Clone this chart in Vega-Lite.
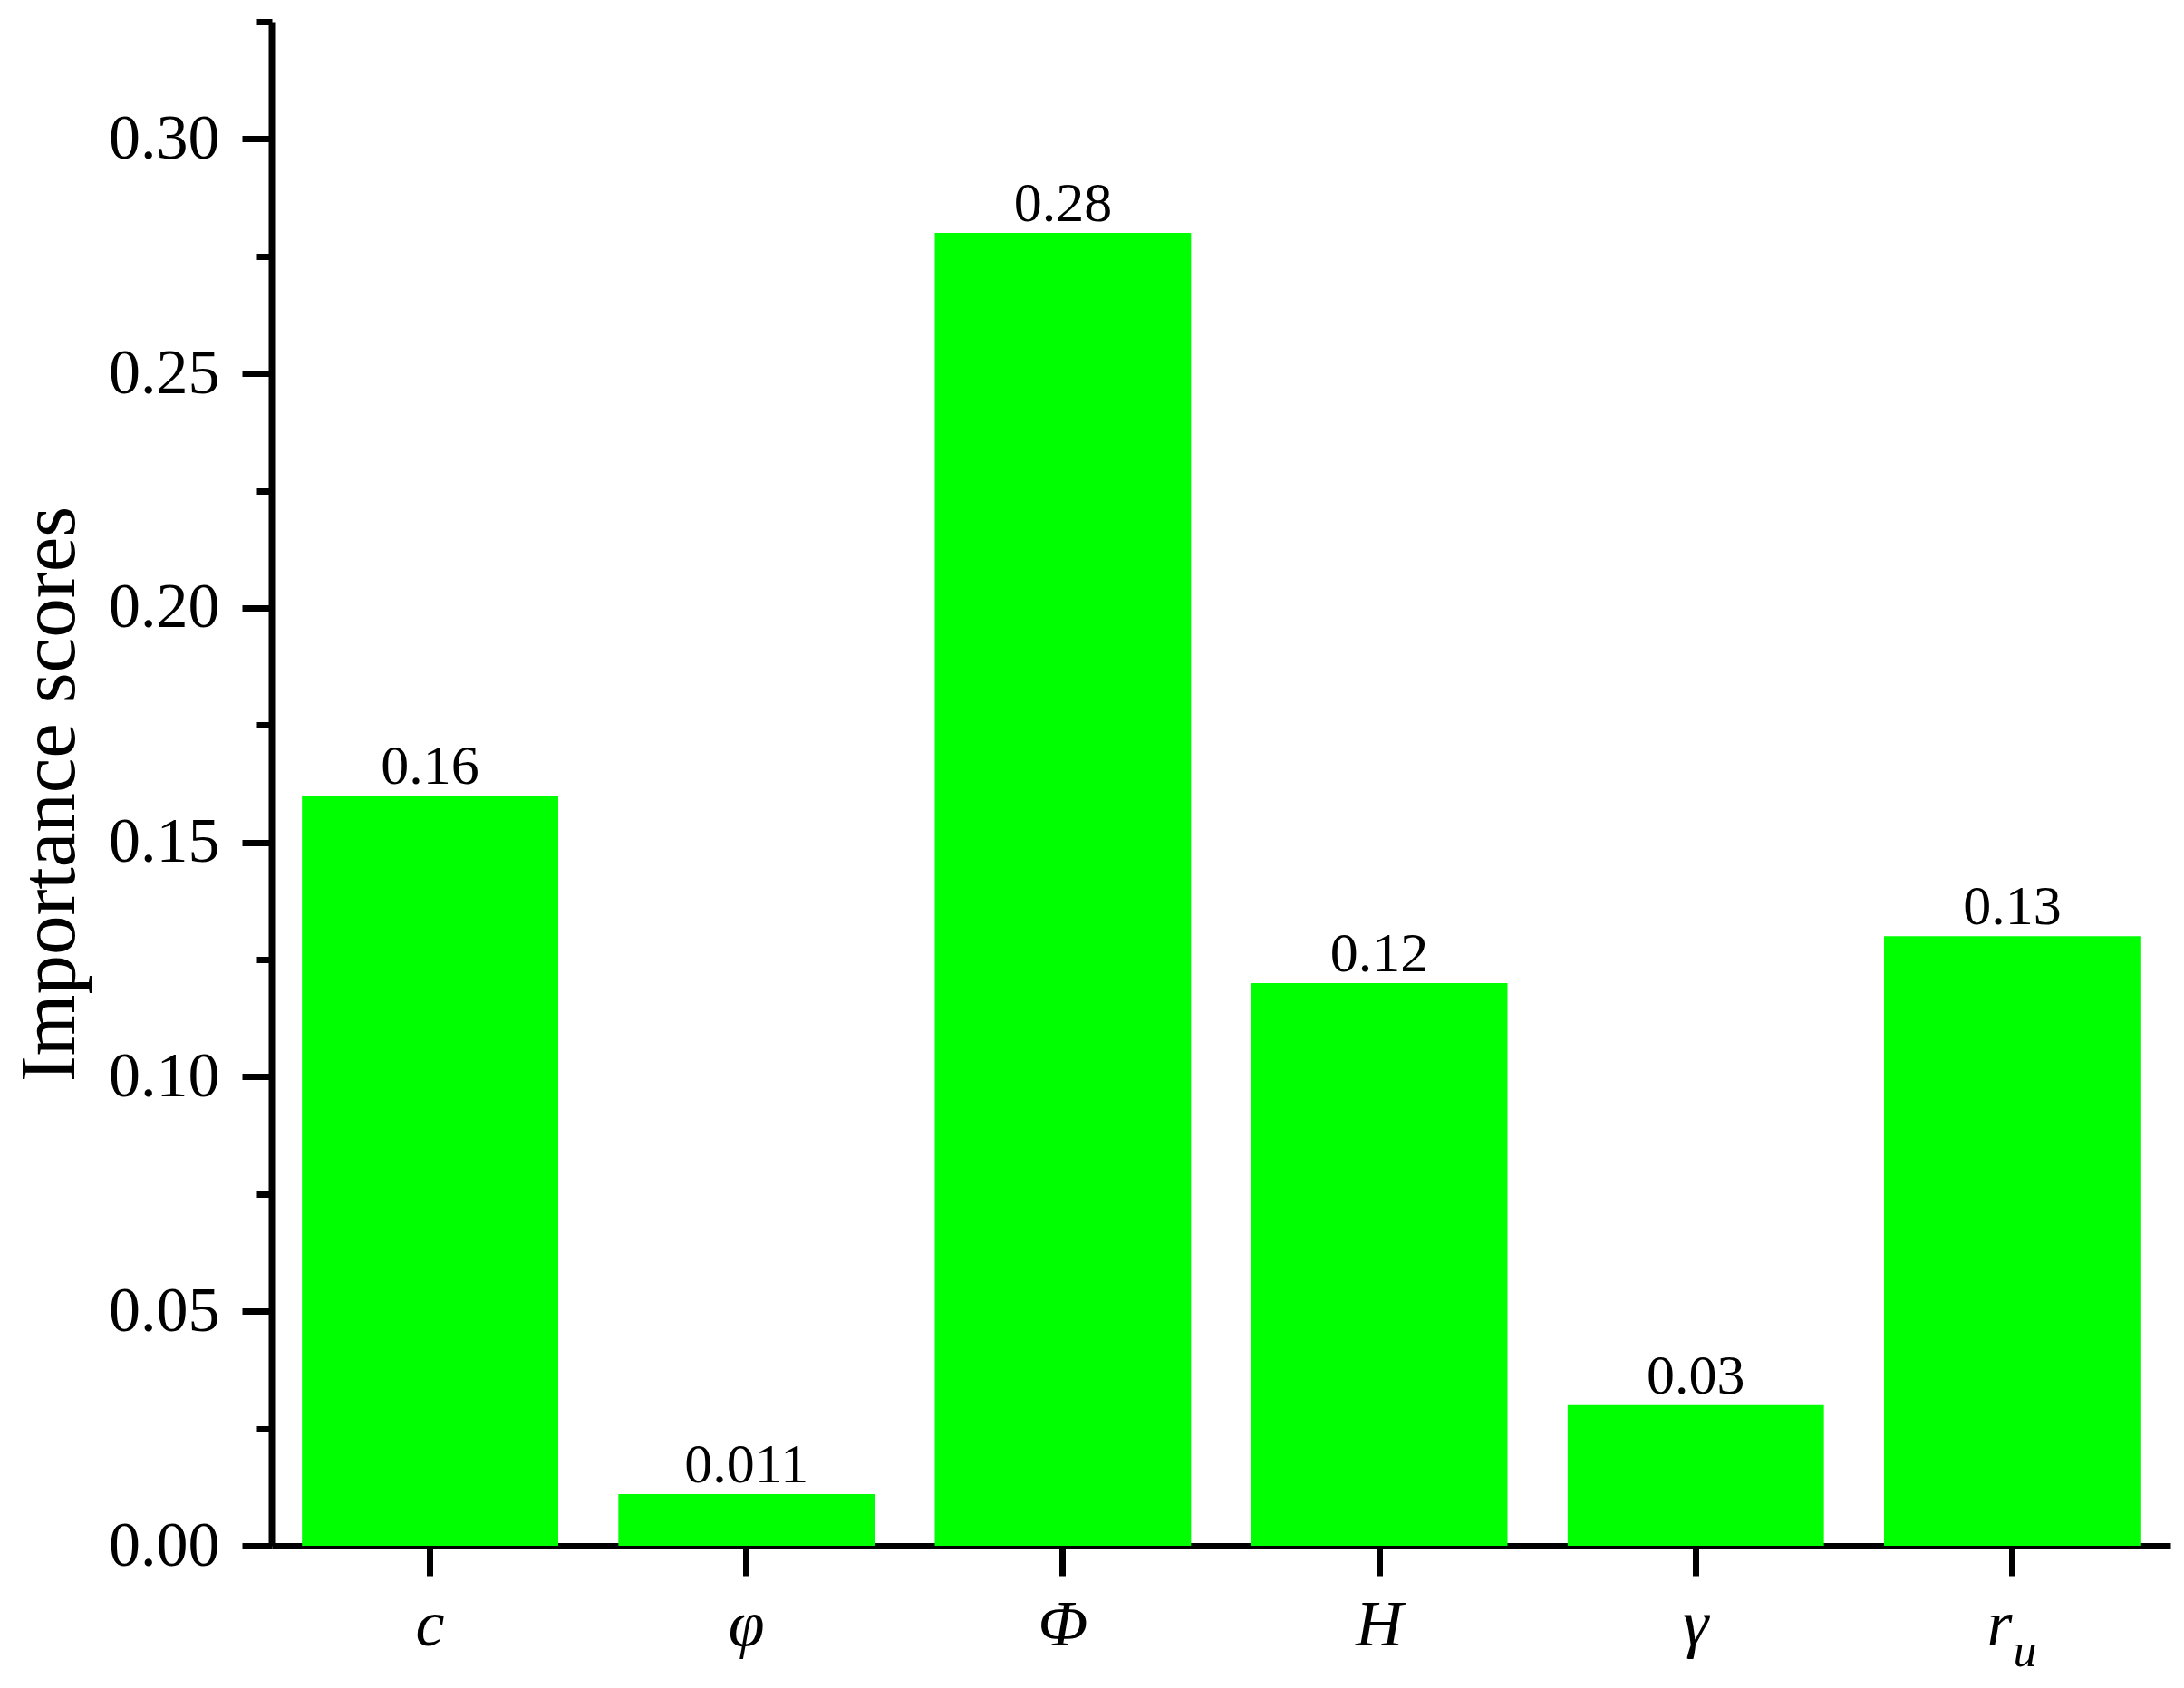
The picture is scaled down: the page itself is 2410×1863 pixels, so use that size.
{
  "$schema": "https://vega.github.io/schema/vega-lite/v6.json",
  "autosize": "none",
  "width": 2095,
  "height": 1682,
  "padding": {"left": 300, "top": 24, "right": 15, "bottom": 157},
  "background": "white",
  "config": {
    "view": {"stroke": null},
    "font": "Liberation Serif"
  },
  "data": {
    "values": [
      {"param": "c", "score": 0.16, "label": "0.16"},
      {"param": "φ", "score": 0.011, "label": "0.011"},
      {"param": "Φ", "score": 0.28, "label": "0.28"},
      {"param": "H", "score": 0.12, "label": "0.12"},
      {"param": "γ", "score": 0.03, "label": "0.03"},
      {"param": "r_u", "score": 0.13, "label": "0.13"}
    ]
  },
  "layer": [
    {
      "mark": {"type": "bar", "color": "#00FF00"},
      "encoding": {
        "x": {
          "field": "param",
          "type": "nominal",
          "sort": null,
          "scale": {"paddingInner": 0.19, "paddingOuter": 0.095},
          "axis": {
            "title": null,
            "labelAngle": 0,
            "labelFont": "Liberation Serif",
            "labelFontStyle": "italic",
            "labelFontSize": 72,
            "labelColor": "black",
            "labelPadding": 19,
            "labelExpr": "datum.value === 'r_u' ? 'r' : datum.value",
            "labelAlign": {"condition": {"test": "datum.value === 'r_u'", "value": "right"}, "value": "center"},
            "tickSize": 33,
            "tickWidth": 7,
            "tickColor": "black",
            "domainColor": "black",
            "domainWidth": 7,
            "grid": false
          }
        },
        "y": {
          "field": "score",
          "type": "quantitative",
          "scale": {"domain": [0, 0.325], "nice": false},
          "axis": {
            "title": "Importance scores",
            "titleFont": "Liberation Serif",
            "titleFontSize": 87,
            "titleFontWeight": "normal",
            "titleColor": "black",
            "titleAngle": -90,
            "titleX": -219,
            "titleY": 852,
            "titleAlign": "center",
            "titleBaseline": "alphabetic",
            "values": [0, 0.025, 0.05, 0.075, 0.1, 0.125, 0.15, 0.175, 0.2, 0.225, 0.25, 0.275, 0.3, 0.325],
            "labelExpr": "round(datum.value * 1000) % 50 === 0 ? format(datum.value, '.2f') : ''",
            "labelOverlap": false,
            "labelFont": "Liberation Serif",
            "labelFontSize": 70,
            "labelColor": "black",
            "labelPadding": 25,
            "labelBound": false,
            "labelFlush": false,
            "tickSize": {"condition": {"test": "round(datum.value * 1000) % 50 !== 0", "value": 17}, "value": 33},
            "tickWidth": 7,
            "tickColor": "black",
            "domainColor": "black",
            "domainWidth": 8,
            "grid": false
          }
        }
      }
    },
    {
      "mark": {"type": "text", "font": "Liberation Serif", "fontSize": 62, "baseline": "alphabetic", "align": "center", "dy": -13, "color": "black"},
      "encoding": {
        "x": {"field": "param", "type": "nominal", "sort": null},
        "y": {"field": "score", "type": "quantitative"},
        "text": {"field": "label"}
      }
    },
    {
      "transform": [{"filter": "datum.param === 'r_u'"}],
      "mark": {"type": "text", "font": "Liberation Serif", "fontStyle": "italic", "fontSize": 52, "baseline": "alphabetic", "align": "left", "dx": 1, "dy": 133, "color": "black"},
      "encoding": {
        "x": {"field": "param", "type": "nominal", "sort": null},
        "y": {"datum": 0, "type": "quantitative"},
        "text": {"value": "u"}
      }
    }
  ]
}
